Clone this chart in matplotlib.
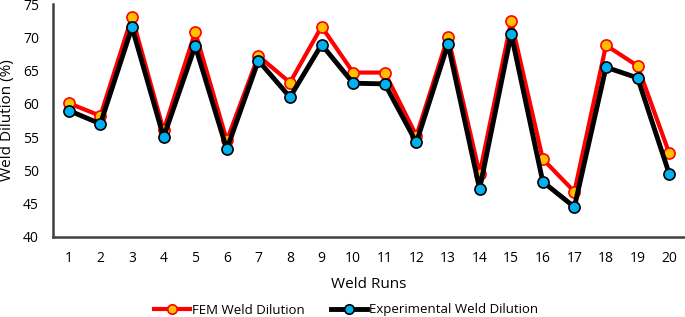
import matplotlib.pyplot as plt

runs = list(range(1, 21))
fem_dilution = [60.1, 58.2, 73.1, 56.0, 70.8, 54.5, 67.2, 63.2, 71.6, 64.7,
                64.7, 55.2, 70.1, 49.5, 72.4, 51.7, 46.8, 68.8, 65.7, 52.6]
exp_dilution = [59.0, 57.0, 71.5, 55.0, 68.7, 53.2, 66.5, 61.0, 68.9, 63.1,
                63.0, 54.2, 69.0, 47.2, 70.5, 48.3, 44.5, 65.5, 63.9, 49.5]

plt.rcParams["font.family"] = ["Open Sans", "DejaVu Sans"]

fig = plt.figure(figsize=(6.85, 3.17), dpi=100)
ax = fig.add_axes([53 / 685, 1 - 237 / 317, 632 / 685, 233 / 317])

ax.plot(runs, fem_dilution, color="#FF0000", linewidth=3, marker="o",
        markersize=8, markerfacecolor="#FFC000", markeredgecolor="#FF0000",
        markeredgewidth=1.2, label="FEM Weld Dilution", zorder=2)
ax.plot(runs, exp_dilution, color="#000000", linewidth=3.5, marker="o",
        markersize=8, markerfacecolor="#00B0F0", markeredgecolor="#000000",
        markeredgewidth=1.2, label="Experimental Weld Dilution", zorder=3)

ax.set_xlim(0.5, 20.5)
ax.set_ylim(40, 75)
ax.set_xticks(runs)
ax.set_yticks(range(40, 76, 5))
ax.tick_params(length=0, labelsize=10, pad=10)
ax.tick_params(axis="y", pad=10)
for side in ["top", "right"]:
    ax.spines[side].set_visible(False)
for side in ["left", "bottom"]:
    ax.spines[side].set_color("#404040")
    ax.spines[side].set_linewidth(1.8)

ax.set_xlabel("Weld Runs", fontsize=11, labelpad=8)
ax.set_ylabel("Weld Dilution (%)", fontsize=11)
ax.yaxis.set_label_coords(-38 / 632, 0.5)

leg = fig.legend(loc="center", bbox_to_anchor=(0.505, 1 - 310 / 317), ncol=2,
                 frameon=False, fontsize=9.5, handlelength=2.7,
                 columnspacing=2.0, handletextpad=0.15, borderaxespad=0,
                 markerscale=0.85)

fig.savefig("out.png", dpi=100)
